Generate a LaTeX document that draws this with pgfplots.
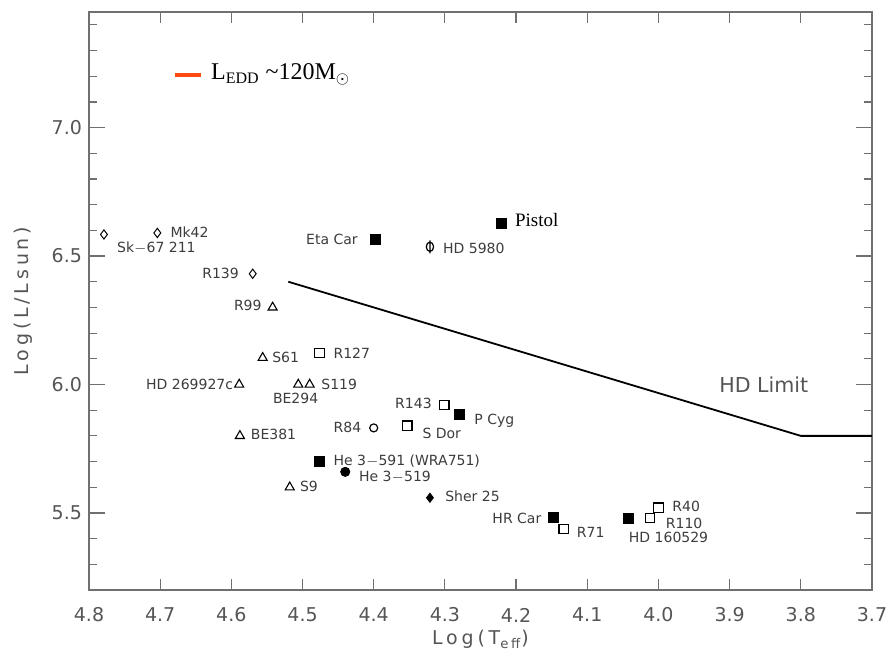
\documentclass[border=0pt]{standalone}
\usepackage{pgfplots}
\pgfplotsset{compat=1.18}
\usepackage{fontspec}
\setmainfont{DejaVu Sans}
\newfontfamily\serif{Liberation Serif}
\newfontfamily\widesans[LetterSpace=20]{DejaVu Sans}
\definecolor{txt}{HTML}{3C3C3C}
\definecolor{tick}{HTML}{555555}
\definecolor{axc}{HTML}{707070}
\definecolor{edd}{HTML}{FF4A12}
\pgfdeclareplotmark{phi}{%
  \pgfpathellipse{\pgfpointorigin}{\pgfpoint{0.7\pgfplotmarksize}{0pt}}{\pgfpoint{0pt}{0.9\pgfplotmarksize}}%
  \pgfpathmoveto{\pgfpoint{0pt}{-1.25\pgfplotmarksize}}%
  \pgfpathlineto{\pgfpoint{0pt}{1.25\pgfplotmarksize}}%
  \pgfusepathqstroke}
\newcommand{\lab}{\fontsize{7}{8}\selectfont\color{txt}}
\begin{document}
\begin{tikzpicture}
\begin{axis}[
  at={(0,0)}, anchor=south west, scale only axis,
  width=391.5pt, height=289pt,
  xmin=3.7, xmax=4.8, ymin=5.2, ymax=7.45, x dir=reverse,
  xtick={3.7,3.8,3.9,4.0,4.1,4.2,4.3,4.4,4.5,4.6,4.7,4.8},
  ytick={5.5,6.0,6.5,7.0},
  minor ytick={5.3,5.4,5.6,5.7,5.8,5.9,6.1,6.2,6.3,6.4,6.6,6.7,6.8,6.9,7.1,7.2,7.3,7.4},
  tick align=inside,
  major tick length=8pt, minor tick length=4pt,
  xtick style={/pgfplots/major tick length=5.5pt},
  axis line style={draw=axc, line width=1pt},
  every tick/.style={draw=axc, line width=0.6pt},
  xticklabel style={anchor=center, yshift=-12.5pt},
  ticklabel style={font=\fontsize{9.5}{11}\selectfont, text=tick},
  /pgf/number format/.cd, fixed, fixed zerofill, precision=1, assume math mode=true,
  /pgfplots/.cd,
  xlabel={\widesans Log(T\textsubscript{eff})},
  ylabel={\widesans Log(L/Lsun)},
  label style={font=\fontsize{9.5}{11}\selectfont, text=tick},
  xlabel style={at={(axis description cs:0.5,-0.0848)}, anchor=center},
  ylabel style={at={(axis description cs:-0.0843,0.5)}, anchor=center},
  clip=false,
]
% HD limit
\addplot[black, line width=0.9pt, no marks] coordinates {(4.52,6.40) (3.80,5.80) (3.70,5.80)};
% Eddington legend line
\addplot[edd, line width=2pt, no marks] coordinates {(4.679,7.203) (4.643,7.203)};
% open squares
\addplot[only marks, mark=square, mark size=2.4pt, mark options={black, line width=0.55pt}] coordinates {
 (4.476,6.123) (4.301,5.920) (4.353,5.839) (4.133,5.438) (4.012,5.480) (4.000,5.520)};
% filled squares
\addplot[only marks, mark=square*, mark size=2.5pt, mark options={black, fill=black}] coordinates {
 (4.398,6.564) (4.220,6.626) (4.279,5.882) (4.477,5.699) (4.147,5.481) (4.042,5.480)};
% triangles
\addplot[only marks, mark=triangle, mark size=2.6pt, mark options={black, line width=0.55pt}] coordinates {
 (4.542,6.300) (4.556,6.104) (4.589,6.000) (4.506,6.000) (4.490,6.000) (4.588,5.800) (4.518,5.600)};
% open diamonds
\addplot[only marks, mark=diamond, mark size=2.3pt, mark options={black, line width=0.5pt}] coordinates {
 (4.779,6.584) (4.704,6.590) (4.570,6.431)};
% filled diamond
\addplot[only marks, mark=diamond*, mark size=2.3pt, mark options={black, fill=black}] coordinates {(4.321,5.559)};
% open circle
\addplot[only marks, mark=o, mark size=2pt, mark options={black, line width=0.6pt}] coordinates {(4.400,5.831)};
% filled circle
\addplot[only marks, mark=*, mark size=2.3pt, mark options={black, fill=black}] coordinates {(4.440,5.660)};
% phi
\addplot[only marks, mark=phi, mark size=2.6pt, mark options={black, line width=0.6pt}] coordinates {(4.321,6.536)};

% labels
\node[anchor=west, inner sep=0pt] at (axis cs:4.686,6.592) {\lab Mk42};
\node[anchor=west, inner sep=0pt] at (axis cs:4.761,6.532) {\lab Sk$-$67 211};
\node[anchor=east, inner sep=0pt] at (axis cs:4.589,6.431) {\lab R139};
\node[anchor=east, inner sep=0pt] at (axis cs:4.557,6.306) {\lab R99};
\node[anchor=east, inner sep=0pt] at (axis cs:4.422,6.564) {\lab Eta Car};
\node[anchor=west, inner sep=0pt] at (axis cs:4.303,6.530) {\lab HD 5980};
\node[anchor=west, inner sep=0pt] at (axis cs:4.202,6.642) {\fontsize{9.5}{11}\selectfont\serif Pistol};
\node[anchor=west, inner sep=0pt] at (axis cs:4.543,6.104) {\lab S61};
\node[anchor=west, inner sep=0pt] at (axis cs:4.457,6.123) {\lab R127};
\node[anchor=east, inner sep=0pt] at (axis cs:4.597,6.000) {\lab HD 269927c};
\node[anchor=west, inner sep=0pt] at (axis cs:4.542,5.944) {\lab BE294};
\node[anchor=west, inner sep=0pt] at (axis cs:4.474,6.000) {\lab S119};
\node[anchor=east, inner sep=0pt] at (axis cs:4.318,5.925) {\lab R143};
\node[anchor=west, inner sep=0pt] at (axis cs:4.332,5.810) {\lab S Dor};
\node[anchor=east, inner sep=0pt] at (axis cs:4.417,5.831) {\lab R84};
\node[anchor=west, inner sep=0pt] at (axis cs:4.259,5.860) {\lab P Cyg};
\node[anchor=west, inner sep=0pt] at (axis cs:4.573,5.804) {\lab BE381};
\node[anchor=west, inner sep=0pt] at (axis cs:4.457,5.701) {\lab He 3$-$591 (WRA751)};
\node[anchor=west, inner sep=0pt] at (axis cs:4.421,5.641) {\lab He 3$-$519};
\node[anchor=west, inner sep=0pt] at (axis cs:4.504,5.605) {\lab S9};
\node[anchor=west, inner sep=0pt] at (axis cs:4.300,5.563) {\lab Sher 25};
\node[anchor=east, inner sep=0pt] at (axis cs:4.164,5.480) {\lab HR Car};
\node[anchor=west, inner sep=0pt] at (axis cs:4.115,5.426) {\lab R71};
\node[anchor=west, inner sep=0pt] at (axis cs:3.981,5.524) {\lab R40};
\node[anchor=west, inner sep=0pt] at (axis cs:3.990,5.461) {\lab R110};
\node[anchor=west, inner sep=0pt] at (axis cs:4.042,5.403) {\lab HD 160529};
\node[anchor=west, inner sep=0pt] at (axis cs:3.915,6.000) {\fontsize{10.3}{12}\selectfont\color{tick}HD Limit};
\node[anchor=base west, inner sep=0pt] at (axis cs:4.629,7.187) {\fontsize{12}{14}\selectfont\serif L\textsubscript{EDD} \textasciitilde120M\textsubscript{$\odot$}};
\end{axis}
\pgfresetboundingbox
\path[use as bounding box] (-44.5pt,-34.5pt) rectangle (401pt,295pt);
\end{tikzpicture}
\end{document}
